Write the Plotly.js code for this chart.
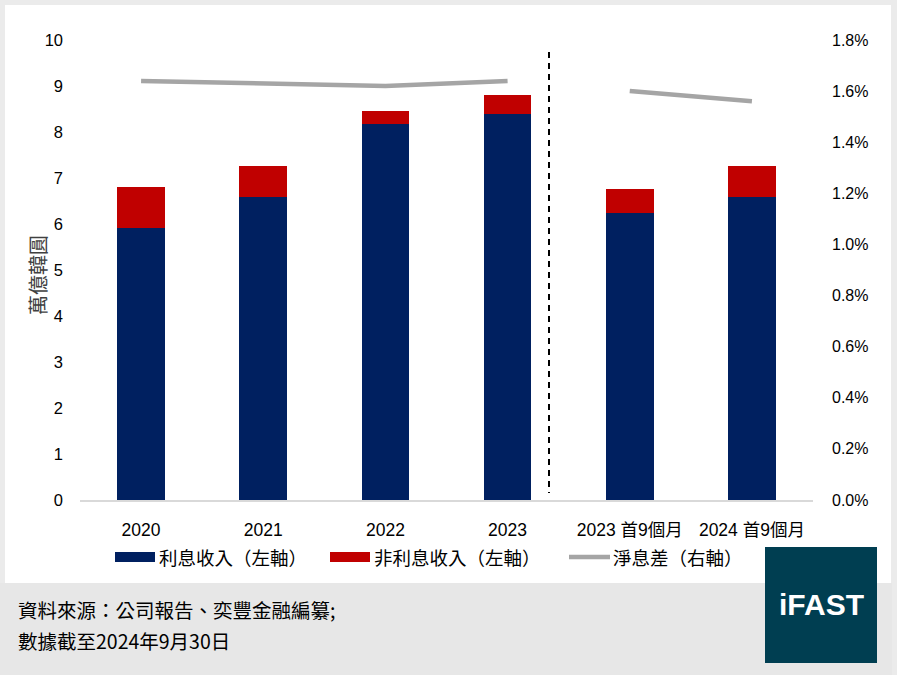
<!DOCTYPE html>
<html>
<head>
<meta charset="utf-8">
<script src="https://cdn.plot.ly/plotly-3.0.1.min.js"></script>
<style>html,body{margin:0;padding:0;background:#fff;}#chart{width:897px;height:681px;}</style>
</head>
<body>
<div id="chart"></div>
<script>
// ---- data ----
const categories = ['2020', '2021', '2022', '2023', '2023 首9個月', '2024 首9個月'];
const interestIncome = [5.91, 6.59, 8.18, 8.40, 6.24, 6.59];
const nonInterestIncome = [0.89, 0.67, 0.28, 0.40, 0.52, 0.67];
const nimAnnualCats = ['2020', '2021', '2022', '2023'];
const nimAnnual = [0.0164, 0.0163, 0.0162, 0.0164];
const nim9MCats = ['2023 首9個月', '2024 首9個月'];
const nim9M = [0.0160, 0.0156];
const legendLabels = ['利息收入（左軸）', '非利息收入（左軸）', '淨息差（右軸）'];
const yTitle = '萬億韓圓';
const sourceLines = ['資料來源：公司報告、奕豐金融編纂;', '數據截至2024年9月30日'];

// ---- layout helpers (pixel -> paper) ----
const W = 897, H = 681, L = 80, R = 813, T = 40, B = 500;
const px = x => (x - L) / (R - L);
const py = y => (B - y) / (B - T);

const BLUE = '#002060', RED = '#C00000', GREY = '#A5A5A5';
const CJK = '"Noto Sans CJK TC", "Noto Sans CJK SC", sans-serif';
const NUM = '"Liberation Sans", "Noto Sans CJK TC", sans-serif';

const traces = [
  {type: 'bar', x: categories, y: interestIncome, name: legendLabels[0], marker: {color: BLUE}, width: 0.39, yaxis: 'y'},
  {type: 'bar', x: categories, y: nonInterestIncome, name: legendLabels[1], marker: {color: RED}, width: 0.39, yaxis: 'y'},
  {type: 'scatter', mode: 'lines', x: nimAnnualCats, y: nimAnnual, name: legendLabels[2], line: {color: GREY, width: 4.5}, yaxis: 'y2'},
  {type: 'scatter', mode: 'lines', x: nim9MCats, y: nim9M, name: legendLabels[2], line: {color: GREY, width: 4.5}, yaxis: 'y2', showlegend: false}
];

function rect(x0, y0, x1, y1, color) {
  return {type: 'rect', xref: 'paper', yref: 'paper', x0: px(x0), x1: px(x1), y0: py(y0), y1: py(y1),
          fillcolor: color, line: {width: 0}, layer: 'below'};
}

const shapes = [
  rect(0, 0, W, H, '#ebebeb'),
  rect(5, 5, 891, 583, '#ffffff'),
  rect(0, 583, 892, 675, '#e7e7e7'),
  rect(0, 675, W, H, '#ffffff'),
  rect(765, 547, 877, 663, '#003E51'),
  {type: 'line', xref: 'paper', yref: 'paper', x0: px(549), x1: px(549), y0: py(52), y1: py(493),
   line: {color: '#000000', width: 2, dash: '6px,5px'}},
  rect(115, 552, 155, 562, BLUE),
  rect(330, 552, 370, 562, RED),
  {type: 'line', xref: 'paper', yref: 'paper', x0: px(569), x1: px(610), y0: py(557), y1: py(557),
   line: {color: GREY, width: 4.5}}
];

function ann(text, x, y, opts) {
  return Object.assign({text: text, xref: 'paper', yref: 'paper', x: px(x), y: py(y), showarrow: false,
    xanchor: 'left', yanchor: 'middle', font: {family: CJK, size: 18.5, color: '#000000'}}, opts || {});
}

const annotations = [
  ann(legendLabels[0], 157, 557),
  ann(legendLabels[1], 372, 557),
  ann(legendLabels[2], 611, 557),
  ann(sourceLines[0], 16, 609, {font: {family: CJK, size: 19.5, color: '#000000'}}),
  ann(sourceLines[1], 16, 640, {font: {family: CJK, size: 19.5, color: '#000000'}}),
  ann('iFAST', 821, 604, {xanchor: 'center', font: {family: '"Liberation Sans", Arial, sans-serif', size: 30, color: '#ffffff', weight: 'bold'}}),
  ann(yTitle, 37, 275, {xanchor: 'center', textangle: -90, font: {family: CJK, size: 20, color: '#404040'}})
];

const layout = {
  width: W, height: H,
  margin: {l: L, r: W - R, t: T, b: H - B, pad: 0},
  paper_bgcolor: 'rgba(0,0,0,0)', plot_bgcolor: 'rgba(0,0,0,0)',
  barmode: 'stack', showlegend: false,
  xaxis: {type: 'category', showgrid: false, zeroline: false, showline: true, linecolor: '#d9d9d9', linewidth: 1.5,
          ticks: '', ticklabelstandoff: 13, tickfont: {family: NUM, size: 17.5, color: '#000000'}, fixedrange: true},
  yaxis: {range: [0, 10], dtick: 1, showgrid: false, zeroline: false, showline: false, ticks: '',
          ticklabelstandoff: 16, tickfont: {family: NUM, size: 16.5, color: '#000000'}},
  yaxis2: {overlaying: 'y', side: 'right', range: [0, 0.018], dtick: 0.002, tickformat: '.1%', showgrid: false,
           zeroline: false, showline: false, ticks: '', ticklabelstandoff: 18, tickfont: {family: NUM, size: 16, color: '#000000'}},
  shapes: shapes,
  annotations: annotations
};

Plotly.newPlot('chart', traces, layout, {displayModeBar: false, staticPlot: true});
</script>
</body>
</html>
